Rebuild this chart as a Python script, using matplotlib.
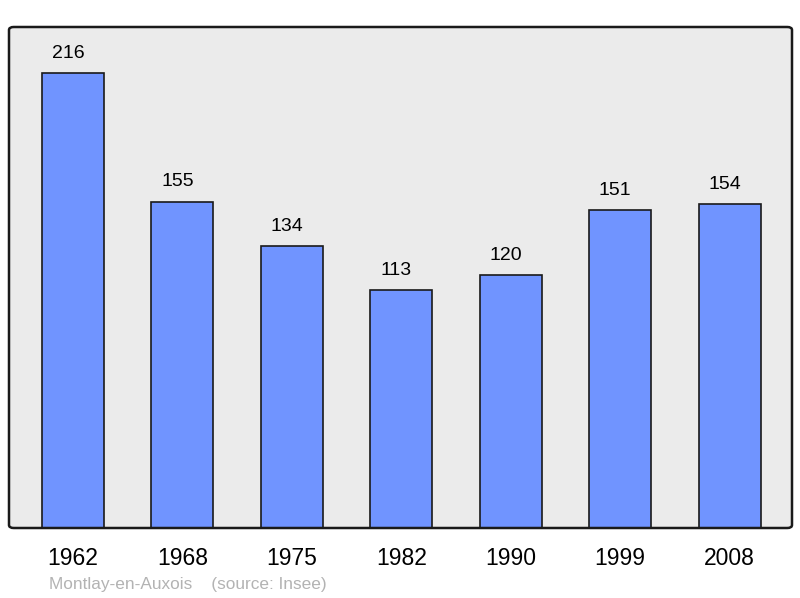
import numpy as np
import matplotlib.pyplot as plt
from matplotlib.patches import FancyBboxPatch

plt.rcParams['font.family'] = ['Liberation Sans', 'DejaVu Sans']

## the data
years = ['1962', '1968', '1975', '1982', '1990', '1999', '2008']
population = [216, 155, 134, 113, 120, 151, 154]

fig = plt.figure(figsize=(8, 5.98), dpi=100)
ax = fig.add_axes([9 / 800, 70 / 598, 783 / 800, 501 / 598])

ind = np.arange(len(years))
width = 0.567

bars = ax.bar(ind, population, width, color='#7094ff', edgecolor='#1a1a1a',
              linewidth=1.2, zorder=2)

# value labels above bars (sit a little left of centre, as in the original)
for x, v in zip(ind, population):
    ax.annotate(str(v), (x, v), xytext=(-3.6, 8), textcoords='offset points',
                ha='center', va='bottom', fontsize=14)

ax.set_xlim(-0.585, len(ind) - 1 + 0.571)
ax.set_ylim(0, 237.9)
ax.set_facecolor('#ebebeb')
ax.set_yticks([])
ax.set_xticks(ind)
ax.set_xticklabels(years, fontsize=16.5)
ax.tick_params(axis='x', length=0, pad=14)

# rounded frame
for s in ax.spines.values():
    s.set_visible(False)
frame = FancyBboxPatch((0, 0), 1, 1, boxstyle='round,pad=0,rounding_size=0.006',
                       transform=ax.transAxes, fill=False, edgecolor='#1a1a1a',
                       linewidth=1.8, zorder=3, clip_on=False)
ax.add_patch(frame)

fig.text(49 / 800, 1 - 584 / 598, 'Montlay-en-Auxois    (source: Insee)',
         color='#b3b3b3', fontsize=12.4, va='center', ha='left')

plt.savefig('out.png', dpi=100)
